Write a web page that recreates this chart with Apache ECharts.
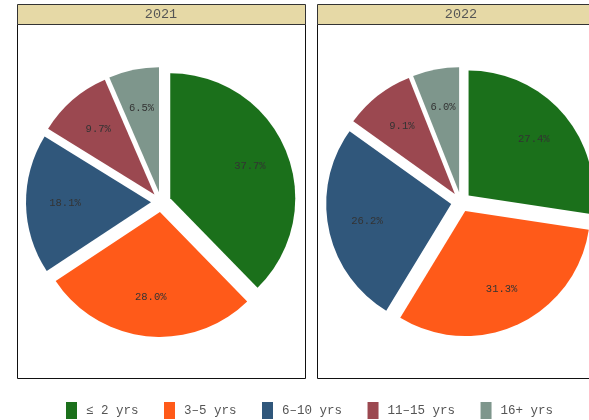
<!DOCTYPE html>
<html lang="en">

<head>
    <meta charset="UTF-8">
    <title>Document</title>
    <script src="https://cdn.jsdelivr.net/npm/echarts@6/dist/echarts.min.js"></script>
    <style>
        * {
            margin: 0;
            padding: 0;
        }

        #main {
            width: 589px;
            height: 420px;
        }
    </style>
</head>

<body>
    <div id="main"></div>
    <script>
        const categories = ['≤ 2 yrs', '3–5 yrs', '6–10 yrs', '11–15 yrs', '16+ yrs'];
        const years = ['2021', '2022'];
        const values2021 = [37.7, 28.0, 18.1, 9.7, 6.5];
        const values2022 = [27.4, 31.3, 26.2, 9.1, 6.0];
        const colors = ['#1b701b', '#ff5a19', '#30577b', '#9b4850', '#7e968c'];

        const font = '"Liberation Mono", "DejaVu Sans Mono", monospace';
        const R = 125;
        const panels = [
            { x: 17, values: values2021 },
            { x: 317, values: values2022 }
        ];
        const panelW = 288;

        function toData(vals) {
            return vals.map(function (v, i) {
                return { name: categories[i], value: v, selected: true };
            });
        }

        var chartDom = document.getElementById('main');
        var myChart = echarts.init(chartDom);

        var graphics = [];
        var series = [];
        panels.forEach(function (p, k) {
            // panel frame
            graphics.push({
                type: 'rect', z: 0,
                shape: { x: p.x + 0.5, y: 24.5, width: panelW, height: 354 },
                style: { fill: '#fff', stroke: '#111', lineWidth: 1 }
            });
            // title strip
            graphics.push({
                type: 'rect', z: 1,
                shape: { x: p.x + 0.5, y: 4.5, width: panelW, height: 20 },
                style: { fill: '#e6d9a6', stroke: '#333', lineWidth: 1 }
            });
            graphics.push({
                type: 'text', z: 2,
                x: p.x + panelW / 2, y: 14.5,
                style: {
                    text: years[k], fill: '#555', font: '13.5px ' + font,
                    align: 'center', verticalAlign: 'middle'
                }
            });
            var cx = p.x + panelW / 2;
            series.push({
                type: 'pie',
                center: [cx, 202],
                radius: [0, R],
                startAngle: 90,
                selectedMode: 'multiple',
                selectedOffset: 10,
                emphasis: { disabled: true },
                label: { show: false },
                labelLine: { show: false },
                data: toData(p.values)
            });
            // label layer placed at ~0.66R
            series.push({
                type: 'pie',
                center: [cx, 202],
                radius: [41, R],
                startAngle: 90,
                silent: true,
                selectedMode: 'multiple',
                selectedOffset: 10,
                emphasis: { disabled: true },
                itemStyle: { color: 'rgba(0,0,0,0)' },
                label: {
                    show: true,
                    position: 'inside',
                    formatter: function (d) { return d.value.toFixed(1) + '%'; },
                    color: '#333',
                    fontSize: 10.5,
                    fontFamily: font
                },
                labelLine: { show: false },
                data: toData(p.values)
            });
        });

        option = {
            animation: false,
            backgroundColor: '#fff',
            color: colors,
            graphic: graphics,
            legend: {
                data: categories,
                left: 61,
                top: 397,
                selectedMode: false,
                icon: 'rect',
                itemWidth: 11,
                itemHeight: 17,
                itemGap: 25.5,
                textStyle: {
                    color: '#555',
                    fontSize: 12.5,
                    fontFamily: font,
                    padding: [0, 0, 0, 4]
                }
            },
            series: series
        };
        myChart.setOption(option);
    </script>
</body>

</html>
